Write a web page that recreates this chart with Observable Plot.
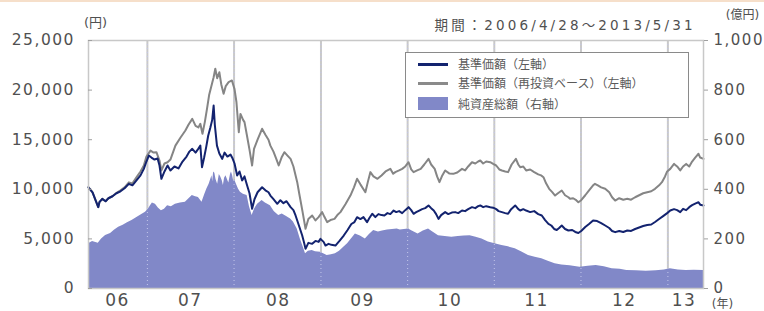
<!DOCTYPE html>
<html><head><meta charset="utf-8">
<script src="https://cdn.jsdelivr.net/npm/d3@7"></script>
<script src="https://cdn.jsdelivr.net/npm/@observablehq/plot@0.6"></script>
<style>
html,body{margin:0;padding:0;background:#fff;}
#wrap{position:relative;width:764px;height:311px;overflow:hidden;}
#wrap svg{position:absolute;left:0;top:0;}
.topband{position:absolute;left:0;top:0;width:764px;height:2px;background:#f6dfca;}
g[aria-label="y-axis tick label"] text{letter-spacing:1.5px;}
g[aria-label="x-axis tick label"] text{letter-spacing:1.5px;}
.lg{position:absolute;z-index:2;}
.lgbox{left:405px;top:52px;width:284px;height:66px;border:1px solid #8a8a8a;background:#fff;box-sizing:border-box;}
.lgt{font-family:"Noto Sans CJK JP";font-size:12px;line-height:14px;color:#5a5a5a;white-space:nowrap;left:458px;}
</style></head><body>
<div id="wrap"><div class="topband"></div></div>
<script>
// 基準価額（左軸, 円）
const navDates = ["2006-04-28","2006-05-15","2006-06-08","2006-06-13","2006-06-25","2006-07-09","2006-07-21","2006-08-07","2006-08-24","2006-09-10","2006-09-27","2006-10-15","2006-10-30","2006-11-16","2006-12-03","2006-12-17","2006-12-28","2007-01-07","2007-01-18","2007-01-31","2007-02-13","2007-02-21","2007-03-01","2007-03-14","2007-03-27","2007-04-08","2007-04-25","2007-05-12","2007-05-29","2007-06-15","2007-06-27","2007-07-09","2007-07-23","2007-08-04","2007-08-12","2007-08-19","2007-08-28","2007-09-06","2007-09-14","2007-09-23","2007-10-01","2007-10-07","2007-10-12","2007-10-21","2007-10-31","2007-11-12","2007-11-22","2007-12-04","2007-12-17","2007-12-26","2008-01-03","2008-01-14","2008-01-24","2008-02-04","2008-02-14","2008-02-25","2008-03-06","2008-03-17","2008-03-27","2008-04-09","2008-04-28","2008-05-12","2008-05-25","2008-06-02","2008-06-15","2008-07-01","2008-07-14","2008-07-27","2008-08-09","2008-08-26","2008-09-07","2008-09-16","2008-09-28","2008-10-14","2008-10-22","2008-10-28","2008-11-09","2008-11-25","2008-12-09","2008-12-22","2008-12-30","2009-01-12","2009-01-20","2009-02-02","2009-02-14","2009-03-03","2009-03-20","2009-04-07","2009-04-23","2009-05-09","2009-05-22","2009-06-02","2009-06-16","2009-06-29","2009-07-14","2009-07-24","2009-08-05","2009-08-18","2009-08-31","2009-09-13","2009-09-25","2009-10-08","2009-10-20","2009-11-03","2009-11-14","2009-11-26","2009-12-09","2009-12-22","2010-01-05","2010-01-16","2010-01-26","2010-02-06","2010-02-19","2010-03-03","2010-03-16","2010-03-30","2010-04-10","2010-04-21","2010-05-01","2010-05-11","2010-05-22","2010-06-08","2010-06-21","2010-07-06","2010-07-20","2010-08-02","2010-08-18","2010-08-31","2010-09-13","2010-09-29","2010-10-13","2010-10-25","2010-11-03","2010-11-15","2010-11-28","2010-12-15","2010-12-27","2011-01-09","2011-01-19","2011-02-02","2011-02-16","2011-02-28","2011-03-13","2011-03-30","2011-04-12","2011-04-20","2011-05-03","2011-05-15","2011-06-01","2011-06-18","2011-07-05","2011-07-20","2011-08-03","2011-08-17","2011-08-29","2011-09-10","2011-09-21","2011-10-01","2011-10-12","2011-10-26","2011-11-09","2011-11-25","2011-12-08","2011-12-21","2012-01-02","2012-01-19","2012-02-04","2012-02-21","2012-03-09","2012-03-26","2012-04-12","2012-04-29","2012-05-11","2012-05-24","2012-06-10","2012-06-27","2012-07-14","2012-07-30","2012-08-16","2012-09-02","2012-09-19","2012-10-06","2012-10-23","2012-11-08","2012-11-25","2012-12-12","2012-12-29","2013-01-11","2013-01-27","2013-02-09","2013-02-22","2013-03-06","2013-03-19","2013-04-01","2013-04-13","2013-04-26","2013-05-10","2013-05-17","2013-05-31"];
const navValues = [10200,9700,8200,8700,9040,8800,9100,9300,9600,9800,10100,10550,10400,10900,11400,12060,12800,13400,13200,13000,13100,12400,11060,11800,12400,11900,12300,12100,12800,13300,13800,14080,13700,14100,14400,12230,13200,14300,15400,16200,17000,18450,16500,14400,13600,13070,13700,13300,13500,13100,12600,11400,11800,10900,11300,10380,9600,8030,9000,9700,10210,9900,9700,9370,9000,8540,8900,8600,8800,8200,7900,7360,6500,5340,4600,4000,4600,4500,4800,4700,5000,4700,4330,4500,4400,4330,4800,5340,5900,6500,6700,7190,7000,7200,6690,7100,7530,7200,7500,7400,7360,7600,7500,7860,7700,7800,7600,7900,8200,7900,7530,7700,7860,8000,8100,8370,8100,7860,7500,7020,7400,7700,7500,7650,7700,7600,7860,7800,8000,8200,8100,8300,8370,8200,8300,8200,8150,8000,7800,7700,7600,7530,8000,8370,8000,7860,8000,7860,7700,7800,7500,7360,6900,6520,6350,6000,5900,6100,6350,6000,5850,5900,5700,5600,5800,6200,6500,6850,6800,6600,6350,6100,5800,5680,5800,5700,5850,5800,6000,6150,6300,6400,6450,6700,7000,7300,7600,7860,8000,7900,7700,8030,7900,8200,8400,8550,8700,8450,8370];

// 基準価額（再投資ベース）（左軸, 円）
const reinvDates = ["2006-04-28","2006-05-15","2006-06-08","2006-06-13","2006-06-25","2006-07-09","2006-07-21","2006-08-07","2006-08-24","2006-09-10","2006-09-27","2006-10-15","2006-10-30","2006-11-16","2006-12-03","2006-12-17","2006-12-28","2007-01-14","2007-01-27","2007-02-08","2007-02-21","2007-03-01","2007-03-14","2007-03-27","2007-04-08","2007-04-29","2007-05-20","2007-06-10","2007-06-23","2007-07-09","2007-07-23","2007-08-04","2007-08-12","2007-08-21","2007-08-31","2007-09-09","2007-09-18","2007-09-30","2007-10-07","2007-10-14","2007-10-22","2007-10-31","2007-11-08","2007-11-18","2007-11-27","2007-12-09","2007-12-23","2008-01-03","2008-01-11","2008-01-21","2008-01-28","2008-02-08","2008-02-14","2008-02-26","2008-03-06","2008-03-17","2008-03-25","2008-04-09","2008-04-28","2008-05-12","2008-05-25","2008-06-02","2008-06-15","2008-06-28","2008-07-07","2008-07-19","2008-07-31","2008-08-13","2008-08-26","2008-09-07","2008-09-23","2008-10-02","2008-10-15","2008-10-28","2008-11-09","2008-11-25","2008-12-09","2008-12-22","2009-01-06","2009-01-16","2009-01-27","2009-02-10","2009-02-27","2009-03-11","2009-03-24","2009-04-14","2009-05-05","2009-05-20","2009-06-02","2009-06-16","2009-07-07","2009-07-18","2009-07-28","2009-08-10","2009-08-27","2009-09-13","2009-09-30","2009-10-20","2009-11-01","2009-11-10","2009-11-26","2009-12-09","2009-12-22","2010-01-05","2010-01-16","2010-01-26","2010-02-10","2010-02-25","2010-03-12","2010-03-30","2010-04-10","2010-04-25","2010-05-05","2010-05-15","2010-05-27","2010-06-08","2010-06-25","2010-07-12","2010-07-29","2010-08-18","2010-08-31","2010-09-13","2010-09-29","2010-10-13","2010-10-25","2010-11-03","2010-11-15","2010-11-28","2010-12-15","2010-12-27","2011-01-09","2011-01-22","2011-02-02","2011-02-16","2011-02-28","2011-03-15","2011-04-02","2011-04-12","2011-04-20","2011-05-03","2011-05-15","2011-06-01","2011-06-18","2011-07-05","2011-07-17","2011-07-27","2011-08-07","2011-08-20","2011-09-02","2011-09-14","2011-09-26","2011-10-12","2011-10-26","2011-11-09","2011-11-16","2011-11-29","2011-12-12","2011-12-21","2012-01-02","2012-01-19","2012-02-04","2012-02-21","2012-02-29","2012-03-12","2012-03-26","2012-04-12","2012-04-29","2012-05-11","2012-05-24","2012-06-10","2012-06-27","2012-07-14","2012-07-30","2012-08-16","2012-09-02","2012-09-19","2012-10-06","2012-10-23","2012-11-08","2012-11-25","2012-12-07","2012-12-20","2012-12-29","2013-01-11","2013-01-27","2013-02-09","2013-02-22","2013-03-06","2013-03-19","2013-04-01","2013-04-13","2013-04-26","2013-05-10","2013-05-17","2013-05-31"];
const reinvValues = [10200,9700,8200,8700,9040,8800,9100,9300,9650,9900,10200,10700,10600,11200,11800,12400,13300,13900,13700,13740,12900,11900,12600,12730,13000,14400,15200,15930,16500,17100,16400,16240,16600,15600,16800,18110,19500,20630,21300,22150,21200,21800,20600,19630,20400,20800,20970,20100,18800,15760,17600,17000,16770,15200,14000,12400,14070,15000,16100,15500,15000,14400,13800,13000,12400,13200,13740,13400,13070,12300,10720,9500,7800,6020,7000,7360,6860,7200,7700,7200,6690,6900,7020,7400,7700,8500,9370,10200,11060,10500,9710,10800,11730,11300,11060,11400,11800,12060,11560,11730,11900,12060,12300,12730,12000,11730,11900,12060,12500,13070,12500,12060,11300,10720,11400,11900,11600,11560,11700,12060,11900,12300,12730,12600,12800,12900,12600,12800,12730,12560,12400,12000,11900,11800,11730,12500,13070,12500,12230,12300,11900,12000,11730,11500,11400,11220,10600,10050,9710,9370,9600,9880,9400,9200,9040,9100,8900,8700,8900,9400,9900,10400,10550,10400,10200,10050,9700,9200,8870,9100,8950,9040,8950,9200,9400,9600,9710,9800,10050,10400,10720,11300,11800,12060,12560,12300,11900,12300,12560,12300,12800,13200,13580,13200,13070];

// 純資産総額（右軸, 億円）
const assetDates = ["2006-04-28","2006-05-15","2006-06-08","2006-06-22","2006-07-09","2006-07-30","2006-08-15","2006-09-02","2006-09-21","2006-10-09","2006-10-28","2006-11-16","2006-12-03","2006-12-24","2007-01-05","2007-01-14","2007-01-22","2007-02-04","2007-02-16","2007-03-01","2007-03-14","2007-03-27","2007-04-12","2007-04-29","2007-05-20","2007-06-10","2007-06-23","2007-07-09","2007-07-23","2007-08-04","2007-08-19","2007-08-31","2007-09-09","2007-09-18","2007-09-30","2007-10-03","2007-10-07","2007-10-12","2007-10-17","2007-10-24","2007-10-31","2007-11-06","2007-11-12","2007-11-17","2007-11-22","2007-11-28","2007-12-04","2007-12-10","2007-12-17","2007-12-21","2007-12-26","2007-12-31","2008-01-03","2008-01-11","2008-01-20","2008-01-28","2008-02-09","2008-02-25","2008-03-06","2008-03-17","2008-03-27","2008-04-09","2008-04-28","2008-05-12","2008-06-02","2008-06-18","2008-07-07","2008-07-22","2008-08-09","2008-08-26","2008-09-07","2008-09-23","2008-10-06","2008-10-19","2008-10-28","2008-11-09","2008-11-25","2008-12-09","2008-12-30","2009-01-12","2009-01-27","2009-02-14","2009-03-03","2009-03-20","2009-04-07","2009-04-23","2009-05-09","2009-05-26","2009-06-16","2009-07-07","2009-07-24","2009-08-11","2009-08-31","2009-09-17","2009-10-08","2009-10-29","2009-11-18","2009-12-01","2009-12-18","2010-01-05","2010-01-20","2010-02-14","2010-03-08","2010-03-30","2010-04-14","2010-05-11","2010-06-08","2010-07-06","2010-08-02","2010-08-27","2010-09-21","2010-10-16","2010-11-10","2010-12-07","2011-01-04","2011-02-02","2011-03-01","2011-03-30","2011-04-27","2011-05-25","2011-06-22","2011-07-20","2011-08-16","2011-09-14","2011-10-12","2011-11-16","2011-12-28","2012-01-31","2012-03-05","2012-04-08","2012-05-11","2012-06-14","2012-07-12","2012-08-21","2012-10-02","2012-11-13","2012-12-17","2013-01-11","2013-02-14","2013-03-19","2013-04-22","2013-05-31"];
const assetValues = [180,190,182,200,214,222,235,247,255,265,274,285,295,307,320,334,345,340,325,314,320,334,330,340,345,348,360,375,370,367,348,380,402,420,455,430,470,465,440,420,460,450,435,415,445,455,440,425,460,470,455,430,440,420,400,388,380,375,330,294,320,340,355,345,334,310,294,300,290,280,268,240,200,165,140,150,153,148,146,140,133,136,140,150,166,180,200,220,212,200,218,234,228,232,236,238,240,236,238,240,232,220,232,240,230,213,210,207,210,212,213,207,200,187,180,173,168,160,147,133,126,120,110,100,95,92,86,90,93,88,80,78,73,72,70,72,75,80,75,73,74,73];

const gridDates = ["2007-01-01","2008-01-01","2009-01-01","2010-01-01","2011-01-01","2012-01-01","2013-01-01"];
const yearTickDates = ["2006-08-28","2007-07-01","2008-07-05","2009-06-25","2010-06-28","2011-06-28","2012-07-01","2013-03-10"];
const yearTickLabels = ["06","07","08","09","10","11","12","13"];
const leftTicks = [0,5000,10000,15000,20000,25000];
const rightTicks = [0,200,400,600,800,1000];
const periodText = "期間：2006/4/28～2013/5/31";

const parse = d3.utcParse("%Y-%m-%d");
const RATIO = 25000 / 1000;
const nav = navDates.map((d,i)=>({date:parse(d), value:navValues[i]}));
const reinv = reinvDates.map((d,i)=>({date:parse(d), value:reinvValues[i]}));
const assets = assetDates.map((d,i)=>({date:parse(d), value:assetValues[i]}));
const grid = gridDates.map(parse);
const yearMap = new Map(yearTickDates.map((d,i)=>[+parse(d), yearTickLabels[i]]));
const fmt = d3.format(",");
const txtColor = "#505050";

const chart = Plot.plot({
  width:764, height:311,
  marginLeft:88, marginRight:61, marginTop:40, marginBottom:23,
  style:{fontFamily:"'DejaVu Sans','Noto Sans CJK JP'", fontSize:"15.5px", color:txtColor, background:"transparent", overflow:"visible"},
  x:{type:"utc", domain:[parse("2006-04-28"), parse("2013-05-31")]},
  y:{domain:[0,25000]},
  marks:[
    Plot.ruleX(grid, {stroke:"#c9c9c9", strokeWidth:2}),
    Plot.areaY(assets, {x:"date", y:d=>d.value*RATIO, fill:"#8188c8"}),
    Plot.ruleX(grid, {stroke:"#c3c6ea", strokeWidth:1, strokeDasharray:"1,3"}),
    Plot.lineY(reinv, {x:"date", y:"value", stroke:"#858585", strokeWidth:2}),
    Plot.lineY(nav, {x:"date", y:"value", stroke:"#13236f", strokeWidth:2}),
    Plot.frame({stroke:"#c8c8c8", strokeWidth:1.5}),
    Plot.tickY(leftTicks, {y:d=>d, stroke:"#a0a0a0", insetRight:611}),
    Plot.axisY(leftTicks, {anchor:"left", tickSize:0, tickPadding:13.5, tickFormat:fmt, label:null, fill:txtColor}),
    Plot.axisY(rightTicks.map(v=>v*RATIO), {anchor:"right", tickSize:4, tickPadding:6, stroke:"#a0a0a0", tickFormat:d=>fmt(d/RATIO), label:null, fill:txtColor, fontSize:15}),
    Plot.axisX(yearTickDates.map(parse), {anchor:"bottom", tickSize:0, tickPadding:5, tickFormat:d=>yearMap.get(+d), label:null, fill:txtColor, fontSize:17}),
    Plot.text(["(円)"], {text:d=>d, frameAnchor:"top-left", dx:7, dy:-18, textAnchor:"middle", lineAnchor:"middle", fontSize:13, fill:txtColor}),
    Plot.text(["(億円)"], {text:d=>d, frameAnchor:"top-right", dx:39, dy:-25, textAnchor:"middle", lineAnchor:"middle", fontSize:12, fill:txtColor}),
    Plot.text([periodText], {text:d=>d, frameAnchor:"top-right", dx:-11, dy:-15, textAnchor:"end", lineAnchor:"middle", fontSize:13.5, fill:txtColor}),
    Plot.text(["(年)"], {text:d=>d, frameAnchor:"bottom-right", dx:19, dy:16, textAnchor:"middle", lineAnchor:"middle", fontSize:12, fill:txtColor})
  ]
});
const wrap = document.getElementById("wrap");
wrap.appendChild(chart);
d3.select(chart).selectAll("text").filter(function(){ return this.textContent === periodText; })
  .attr("textLength", 258).attr("lengthAdjust", "spacing");

// legend
const legendItems = [
  {label:"基準価額（左軸）", kind:"line", color:"#13236f"},
  {label:"基準価額（再投資ベース）（左軸）", kind:"line", color:"#8a8a8a"},
  {label:"純資産総額（右軸）", kind:"swatch", color:"#8188c8"}
];
const legendCenters = [64, 83, 103.5];
const box = document.createElement("div");
box.className = "lg lgbox";
wrap.appendChild(box);
legendItems.forEach((it,i)=>{
  const cy = legendCenters[i];
  const sw = document.createElement("div");
  sw.className = "lg";
  sw.style.left = "418px"; sw.style.width = "30px";
  sw.style.background = it.color;
  if (it.kind === "line") { sw.style.top = (cy-1.5)+"px"; sw.style.height = "3px"; }
  else { sw.style.top = (cy-6.5)+"px"; sw.style.height = "13px"; }
  wrap.appendChild(sw);
  const t = document.createElement("div");
  t.className = "lg lgt";
  t.style.top = (cy-7)+"px";
  t.textContent = it.label;
  wrap.appendChild(t);
});
</script>
</body></html>
